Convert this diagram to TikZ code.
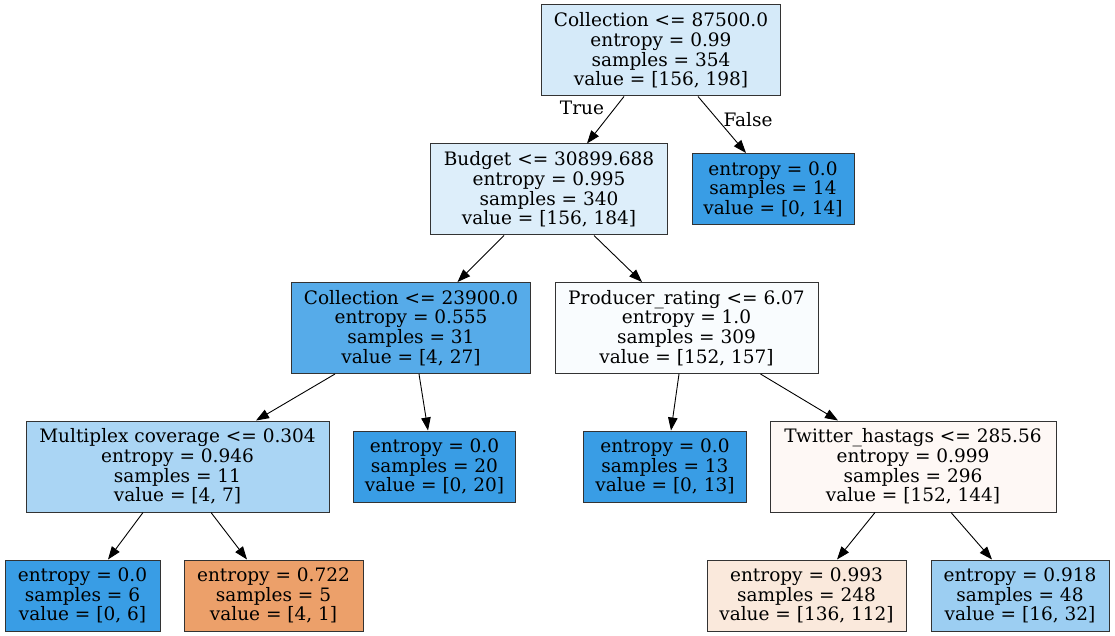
\documentclass[tikz,border=0pt]{standalone}
\usepackage{fontspec}
\setmainfont{DejaVu Serif}
\usetikzlibrary{arrows.meta,calc}
\definecolor{cRoot}{RGB}{213,234,249}
\definecolor{cBudget}{RGB}{221,238,250}
\definecolor{cLeafBlue}{RGB}{57,157,229}
\definecolor{cCollB}{RGB}{86,171,233}
\definecolor{cProd}{RGB}{249,252,254}
\definecolor{cMulti}{RGB}{170,213,244}
\definecolor{cTwit}{RGB}{254,248,245}
\definecolor{cOrange}{RGB}{236,160,106}
\definecolor{cPeach}{RGB}{250,233,220}
\definecolor{cSky}{RGB}{156,206,242}
\newcommand{\tfont}{\fontsize{18.5}{19.6}\selectfont}
\begin{document}
\begin{tikzpicture}[x=1pt,y=-1pt,
  box/.style={draw=black!80, line width=1pt, inner sep=0pt, align=center, font=\tfont},
  inner4/.style={box, minimum height=91pt},
  leaf3/.style={box, minimum height=71pt},
  edge/.style={draw=black, line width=0.9pt, -{Triangle[length=13pt,width=9.5pt]}},
  elabel/.style={font=\tfont, inner sep=0pt}]
\useasboundingbox (0,0) rectangle (1115,636);
\fill[white] (0,0) rectangle (1115,636);

\node[inner4, fill=cRoot, minimum width=239pt] (n0) at (661,50.5)
  {Collection <= 87500.0\\entropy = 0.99\\samples = 354\\value = [156, 198]};
\node[inner4, fill=cBudget, minimum width=237pt] (n1) at (549,189.5)
  {Budget <= 30899.688\\entropy = 0.995\\samples = 340\\value = [156, 184]};
\node[leaf3, fill=cLeafBlue, minimum width=162pt] (n2) at (773,189)
  {entropy = 0.0\\samples = 14\\value = [0, 14]};
\node[inner4, fill=cCollB, minimum width=239pt] (n3) at (411,328)
  {Collection <= 23900.0\\entropy = 0.555\\samples = 31\\value = [4, 27]};
\node[inner4, fill=cProd, minimum width=263pt] (n4) at (686.5,328)
  {Producer\_rating <= 6.07\\entropy = 1.0\\samples = 309\\value = [152, 157]};
\node[inner4, fill=cMulti, minimum width=303pt] (n5) at (177.5,466.5)
  {Multiplex coverage <= 0.304\\entropy = 0.946\\samples = 11\\value = [4, 7]};
\node[leaf3, fill=cLeafBlue, minimum width=162pt] (n6) at (434.5,466.5)
  {entropy = 0.0\\samples = 20\\value = [0, 20]};
\node[leaf3, fill=cLeafBlue, minimum width=163pt] (n7) at (665,466.5)
  {entropy = 0.0\\samples = 13\\value = [0, 13]};
\node[inner4, fill=cTwit, minimum width=286pt] (n8) at (913,466.5)
  {Twitter\_hastags <= 285.56\\entropy = 0.999\\samples = 296\\value = [152, 144]};
\node[leaf3, fill=cLeafBlue, minimum width=155pt] (n9) at (82.5,595.5)
  {entropy = 0.0\\samples = 6\\value = [0, 6]};
\node[leaf3, fill=cOrange, minimum width=179pt] (n10) at (273.5,595.5)
  {entropy = 0.722\\samples = 5\\value = [4, 1]};
\node[leaf3, fill=cPeach, minimum width=199pt] (n11) at (806.5,595.5)
  {entropy = 0.993\\samples = 248\\value = [136, 112]};
\node[leaf3, fill=cSky, minimum width=178pt] (n12) at (1020,595.5)
  {entropy = 0.918\\samples = 48\\value = [16, 32]};

\draw[edge] ([xshift=-37pt]n0.south) -- ([xshift=38pt]n1.north);
\draw[edge] ([xshift=37pt]n0.south) -- ([xshift=-27pt]n2.north);
\draw[edge] ([xshift=-45pt]n1.south) -- ([xshift=46.5pt]n3.north);
\draw[edge] ([xshift=45pt]n1.south) -- ([xshift=-44.5pt]n4.north);
\draw[edge] ([xshift=-76pt]n3.south) -- ([xshift=78.5pt]n5.north);
\draw[edge] ([xshift=8pt]n3.south) -- ([xshift=-6.5pt]n6.north);
\draw[edge] ([xshift=-7.5pt]n4.south) -- ([xshift=6pt]n7.north);
\draw[edge] ([xshift=74pt]n4.south) -- ([xshift=-75pt]n8.north);
\draw[edge] ([xshift=-34.5pt]n5.south) -- ([xshift=25.5pt]n9.north);
\draw[edge] ([xshift=33.5pt]n5.south) -- ([xshift=-26.5pt]n10.north);
\draw[edge] ([xshift=-38pt]n8.south) -- ([xshift=30.5pt]n11.north);
\draw[edge] ([xshift=38pt]n8.south) -- ([xshift=-28pt]n12.north);

\node[elabel] (lt) at (582,108) {True};
\node[elabel] (lf) at (748,120) {False};
\end{tikzpicture}
\end{document}
